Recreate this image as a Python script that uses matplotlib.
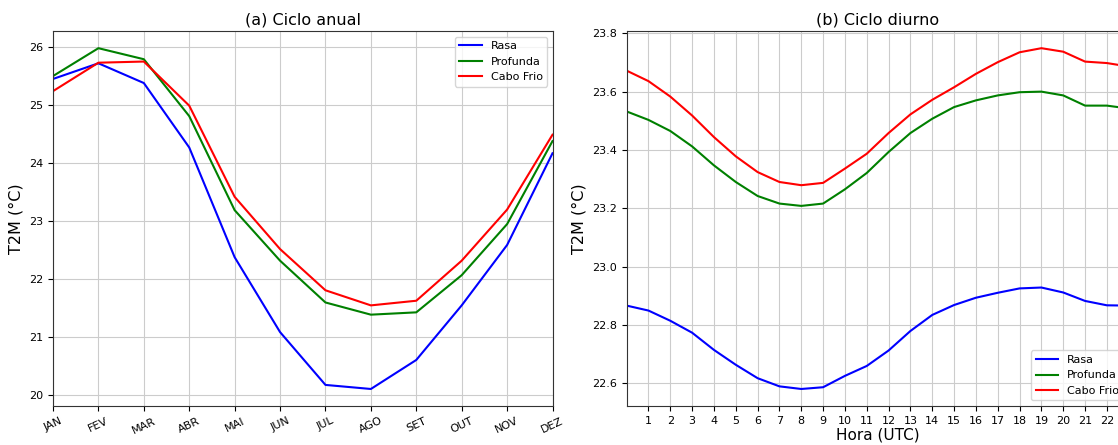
import numpy as np
import matplotlib
matplotlib.use("Agg")
import matplotlib.pyplot as plt

# Ciclo anual (T2M, °C)
meses = ["JAN", "FEV", "MAR", "ABR", "MAI", "JUN", "JUL", "AGO", "SET", "OUT", "NOV", "DEZ"]
rasa_anual = [25.45, 25.72, 25.38, 24.27, 22.38, 21.09, 20.18, 20.11, 20.61, 21.55, 22.59, 24.17]
profunda_anual = [25.50, 25.98, 25.79, 24.81, 23.19, 22.32, 21.60, 21.39, 21.43, 22.07, 22.95, 24.38]
cabofrio_anual = [25.24, 25.73, 25.75, 24.99, 23.42, 22.52, 21.81, 21.55, 21.63, 22.32, 23.20, 24.49]

# Ciclo diurno (T2M, °C), horas 0..23 UTC
horas = list(range(24))
rasa_diurno = [22.866, 22.849, 22.814, 22.773, 22.714, 22.663, 22.617, 22.589,
               22.580, 22.586, 22.625, 22.659, 22.712, 22.779, 22.834, 22.868,
               22.893, 22.910, 22.925, 22.928, 22.911, 22.882, 22.867, 22.866]
profunda_diurno = [23.532, 23.503, 23.465, 23.412, 23.347, 23.290, 23.242, 23.216,
                   23.208, 23.216, 23.265, 23.321, 23.393, 23.458, 23.507, 23.547,
                   23.570, 23.587, 23.598, 23.600, 23.587, 23.552, 23.552, 23.542]
cabofrio_diurno = [23.672, 23.636, 23.583, 23.518, 23.444, 23.378, 23.324, 23.290,
                   23.279, 23.287, 23.336, 23.387, 23.458, 23.522, 23.572, 23.615,
                   23.661, 23.701, 23.735, 23.749, 23.737, 23.703, 23.698, 23.686]

plt.rcParams["axes.edgecolor"] = "#333333"

fig = plt.figure(figsize=(11.18, 4.45), dpi=100)

# (a) ciclo anual
ax1 = fig.add_axes([0.0474, 0.0876, 0.4468, 0.8424])
x = np.arange(len(meses))
ax1.plot(x, rasa_anual, color="blue", label="Rasa")
ax1.plot(x, profunda_anual, color="green", label="Profunda")
ax1.plot(x, cabofrio_anual, color="red", label="Cabo Frio")
ax1.set_xlim(0, 11)
ax1.set_xticks(x)
ax1.set_xticklabels(meses, rotation=25, fontsize=8)
ax1.tick_params(axis="y", labelsize=8)
ax1.set_ylabel("T2M (°C)", fontsize=11.5)
ax1.set_title("(a) Ciclo anual", fontsize=11.5, pad=5)
ax1.grid(True, color="#cccccc")
ax1.legend(loc="upper right", fontsize=8)

# (b) ciclo diurno
ax2 = fig.add_axes([0.5605, 0.0876, 0.4491, 0.8424])
ax2.plot(horas, rasa_diurno, color="blue", label="Rasa")
ax2.plot(horas, profunda_diurno, color="green", label="Profunda")
ax2.plot(horas, cabofrio_diurno, color="red", label="Cabo Frio")
ax2.set_xlim(0, 23)
ax2.set_xticks(range(1, 24))
ax2.tick_params(axis="x", labelsize=8)
ax2.tick_params(axis="y", labelsize=8)
ax2.set_xlabel("Hora (UTC)", fontsize=11, labelpad=1)
ax2.set_ylabel("T2M (°C)", fontsize=11.5)
ax2.set_title("(b) Ciclo diurno", fontsize=11.5, pad=5)
ax2.grid(True, color="#cccccc")
ax2.legend(loc="lower right", fontsize=8)

fig.savefig("out.png", dpi=100)
